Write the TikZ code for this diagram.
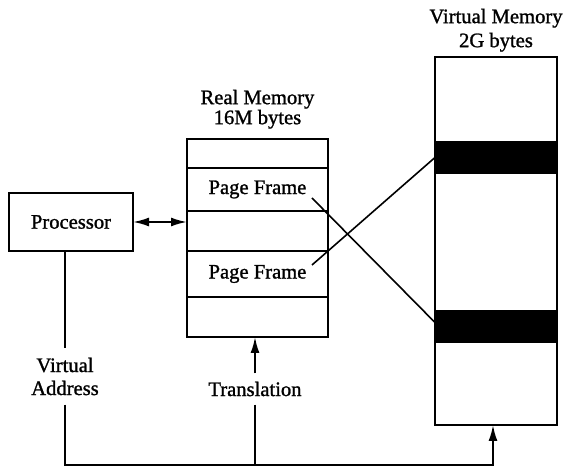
\documentclass[tikz,border=0pt]{standalone}
\usepackage{fontspec}
\setmainfont{Liberation Serif}[FakeBold=1.2]
\usetikzlibrary{arrows.meta,positioning,calc}

\begin{document}
\begin{tikzpicture}[x=0.5pt,y=-0.5pt,
    >={Latex[length=8pt,width=4.5pt]},
    every node/.style={font=\fontsize{10.3}{11.5}\selectfont},
    box/.style={draw, line width=1pt, inner sep=0pt, outer sep=0pt},
    memrow/.style={box, minimum width=70.5pt},
    vmrow/.style={box, minimum width=61pt},
    band/.style={vmrow, fill=black},
    title/.style={align=center, inner sep=0pt},
    label/.style={align=center, inner xsep=0pt, inner ysep=4.5pt},
    wire/.style={line width=1pt},
    link/.style={line width=0.8pt}]
    \useasboundingbox (0,0) rectangle (564,470);

    % Processor
    \node[box, minimum width=62pt, minimum height=29pt] (proc) at (71,222) {Processor};

    % Real memory
    \node[memrow, minimum height=14.5pt, anchor=north] (rm1) at (257.5,139) {};
    \node[memrow, minimum height=21.5pt, below=0pt of rm1] (rm2) {Page Frame};
    \node[memrow, minimum height=20pt, below=0pt of rm2] (rm3) {};
    \node[memrow, minimum height=23pt, below=0pt of rm3] (rm4) {Page Frame};
    \node[memrow, minimum height=20pt, below=0pt of rm4] (rm5) {};
    \node[title, font=\fontsize{10.3}{10}\selectfont, above=5pt of rm1] (rmtitle) {Real Memory\\16M bytes};

    % Virtual memory
    \node[vmrow, minimum height=42.5pt, anchor=north] (vm1) at (496,57) {};
    \node[band, minimum height=15.5pt, below=0pt of vm1] (vb1) {};
    \node[vmrow, minimum height=69pt, below=0pt of vb1] (vm3) {};
    \node[band, minimum height=15.5pt, below=0pt of vm3] (vb2) {};
    \node[vmrow, minimum height=41.5pt, below=0pt of vb2] (vm5) {};
    \node[title, font=\fontsize{10.3}{12}\selectfont, above=2.5pt of vm1] (vmtitle) {Virtual Memory\\2G bytes};

    % Processor <-> real memory
    \draw[wire,<->] (proc.east) -- (proc.east -| rm3.west);

    % Page frames to virtual pages
    \coordinate (pf1) at (312,198);
    \coordinate (pf2) at (312,265);
    \draw[link] (pf1) -- ([yshift=2pt]vb2.west);
    \draw[link] (pf2) -- (vb1.west);

    % Address path
    \node[label] (vaddr) at (65,376.5) {Virtual\\Address};
    \node[label, inner ysep=4pt] (trans) at (255,389) {Translation};
    \coordinate (busR) at (493,465);
    \draw[wire] (proc.south -| vaddr) -- (vaddr.north);
    \draw[wire,->] (vaddr.south) |- (busR) -- (busR |- vm5.south);
    \draw[wire] (trans.south) -- (trans.south |- busR);
    \draw[wire,->] (trans.north) -- (trans.north |- rm5.south);
\end{tikzpicture}
\end{document}
